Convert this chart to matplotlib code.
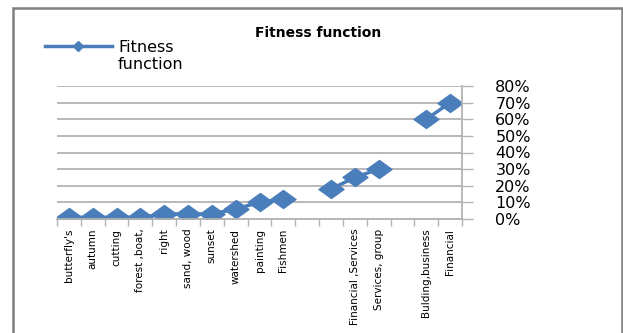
import numpy as np
import matplotlib
matplotlib.use('Agg')
import matplotlib.pyplot as plt
from matplotlib.path import Path
from matplotlib.lines import Line2D
from matplotlib.patches import Rectangle

# Datos del grafico
categorias = ["butterfly's", 'autumn', 'cutting', 'forest ,boat,', 'right',
              'sand, wood', 'sunset', 'watershed', 'painting', 'Fishmen',
              '', '', 'Financial ,Services', 'Services, group', '',
              'Bulding,business', 'Financial']
valores = [0.01, 0.01, 0.01, 0.01, 0.03, 0.03, 0.03, 0.06, 0.10, 0.12,
           np.nan, 0.18, 0.25, 0.30, np.nan, 0.60, 0.70]
ticks_y = [0, 0.1, 0.2, 0.3, 0.4, 0.5, 0.6, 0.7, 0.8]

azul = '#4A7EBB'
gris = '#B3B3B3'

# Rombo ancho como en Excel
rombo = Path([(-1, 0), (0, 0.72), (1, 0), (0, -0.72), (-1, 0)],
             [Path.MOVETO, Path.LINETO, Path.LINETO, Path.LINETO, Path.CLOSEPOLY])

fig = plt.figure(figsize=(6.23, 3.33), dpi=100)
ax = fig.add_axes([57 / 623, 1 - 219 / 333, 405 / 623, 133 / 333])

x = np.arange(len(categorias))
ax.plot(x, valores, color=azul, lw=2.5, marker=rombo, markersize=18,
        markerfacecolor=azul, markeredgecolor=azul)

ax.set_xlim(-0.5, len(categorias) - 0.5)
ax.set_ylim(0, 0.8)

# Eje y a la derecha
ax.yaxis.tick_right()
ax.set_yticks(ticks_y)
ax.set_yticklabels([f'{int(round(v * 100))}%' for v in ticks_y])
ax.tick_params(axis='y', length=8, width=1, color=gris, pad=16, labelsize=11.5)
ax.grid(axis='y', color=gris, lw=1.3)
ax.set_axisbelow(True)

# Eje x: etiquetas verticales y marcas entre categorias
ax.set_xticks(x)
ax.set_xticklabels(categorias, rotation=90, va='top', ha='center', fontsize=7.5)
ax.tick_params(axis='x', length=0, pad=7)
ax.set_xticks(np.arange(len(categorias) + 1) - 0.5, minor=True)
ax.tick_params(axis='x', which='minor', length=5, width=1, color=gris)

for lado in ['left', 'top']:
    ax.spines[lado].set_visible(False)
for lado in ['right', 'bottom']:
    ax.spines[lado].set_color(gris)
    ax.spines[lado].set_linewidth(1.3)

# Titulo y leyenda
fig.text(318 / 623, 1 - 33 / 333, 'Fitness function', ha='center', va='center',
         fontsize=10, fontweight='bold')
fig.lines.append(Line2D([45 / 623, 112 / 623], [1 - 46 / 333] * 2,
                        transform=fig.transFigure, color=azul, lw=2.5))
fig.lines.append(Line2D([78 / 623], [1 - 46 / 333], transform=fig.transFigure,
                        color=azul, marker='D', markersize=5, lw=0))
fig.text(118 / 623, 1 - 56 / 333, 'Fitness\nfunction', ha='left', va='center',
         fontsize=11.5, linespacing=1.15)

# Marco del area del grafico
fig.patches.append(Rectangle((13 / 623, -0.05), 609 / 623, 1 - 8 / 333 + 0.05,
                             transform=fig.transFigure, fill=False,
                             edgecolor='#808080', lw=1.8))

fig.savefig('out.png', dpi=100)
